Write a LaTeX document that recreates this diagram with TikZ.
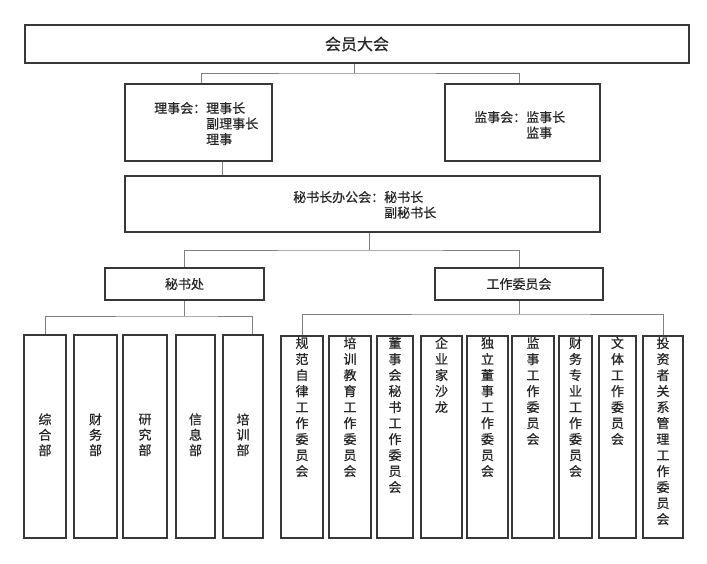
\documentclass[tikz,border=0pt]{standalone}
\usepackage{fontspec}
\newfontfamily\cjk[FakeBold=0.6]{Noto Sans CJK SC}
\newcommand\mystack[1]{\begin{tabular}{@{}c@{}}#1\end{tabular}}
\newcommand\mytopstack[1]{\begin{tabular}[t]{@{}c@{}}#1\end{tabular}}
\begin{document}
\begin{tikzpicture}[x=1pt,y=-1pt,
  box/.style={draw=black!78, line width=1.8pt, fill=white, inner sep=0pt},
  conn/.style={draw=black!50, line width=1pt},
  txt/.style={inner sep=0pt, text=black!85, font=\cjk\fontsize{13}{15.5}\selectfont},
  big/.style={inner sep=0pt, text=black!85, font=\cjk\fontsize{16}{19}\selectfont},
  vl/.style={inner sep=0pt, text=black!85, font=\cjk\fontsize{13}{15}\selectfont},
  vr/.style={inner sep=0pt, text=black!85, font=\cjk\fontsize{13}{16}\selectfont, anchor=base},
]
\useasboundingbox[fill=white] (0,0) rectangle (707,563);

% boxes
\node[box, minimum width=664, minimum height=38] (top) at (357,44) {};
\node[box, minimum width=147, minimum height=77] (lsh) at (198.5,122.5) {};
\node[box, minimum width=155, minimum height=77] (jsh) at (522.5,122.5) {};
\node[box, minimum width=475, minimum height=56] (msh) at (362.5,204) {};
\node[box, minimum width=159, minimum height=32] (msc) at (184.5,284) {};
\node[box, minimum width=168, minimum height=32] (gzw) at (519,284) {};

\node[box, minimum width=42, minimum height=203] (d1) at (45,436.5) {};
\node[box, minimum width=43, minimum height=203] (d2) at (95.5,436.5) {};
\node[box, minimum width=44, minimum height=203] (d3) at (145,436.5) {};
\node[box, minimum width=39, minimum height=203] (d4) at (195.5,436.5) {};
\node[box, minimum width=40, minimum height=203] (d5) at (243,436.5) {};

\node[box, minimum width=42, minimum height=202] (c1) at (302,437) {};
\node[box, minimum width=42, minimum height=202] (c2) at (350,437) {};
\node[box, minimum width=36, minimum height=202] (c3) at (395,437) {};
\node[box, minimum width=41, minimum height=202] (c4) at (441.5,437) {};
\node[box, minimum width=41, minimum height=202] (c5) at (487.5,437) {};
\node[box, minimum width=42, minimum height=202] (c6) at (533,437) {};
\node[box, minimum width=33, minimum height=202] (c7) at (575.5,437) {};
\node[box, minimum width=37, minimum height=202] (c8) at (617.5,437) {};
\node[box, minimum width=40, minimum height=202] (c9) at (663,437) {};

% texts
\node[big] (ttop) at (top) {会员大会};
\node[txt, anchor=base west] (tlsh) at (154,113) {\begin{tabular}[t]{@{}l@{}l@{}}理事会：&理事长\\ &副理事长\\ &理事\end{tabular}};
\node[txt, anchor=base west] (tjsh) at (474,122) {\begin{tabular}[t]{@{}l@{}l@{}}监事会：&监事长\\ &监事\end{tabular}};
\node[txt, anchor=base west] (tmsh) at (293,202) {\begin{tabular}[t]{@{}l@{}l@{}}秘书长办公会：&秘书长\\ &副秘书长\end{tabular}};
\node[txt] (tmsc) at (msc) {秘书处};
\node[txt] (tgzw) at (gzw) {工作委员会};

\node[vl] (td1) at (d1) {\mystack{综\\合\\部}};
\node[vl] (td2) at (d2) {\mystack{财\\务\\部}};
\node[vl] (td3) at (d3) {\mystack{研\\究\\部}};
\node[vl] (td4) at (d4) {\mystack{信\\息\\部}};
\node[vl] (td5) at (d5) {\mystack{培\\训\\部}};

\node[vr] (tc1) at (302,348) {\mytopstack{规\\范\\自\\律\\工\\作\\委\\员\\会}};
\node[vr] (tc2) at (350,348) {\mytopstack{培\\训\\教\\育\\工\\作\\委\\员\\会}};
\node[vr] (tc3) at (395,348) {\mytopstack{董\\事\\会\\秘\\书\\工\\作\\委\\员\\会}};
\node[vr] (tc4) at (441.5,348) {\mytopstack{企\\业\\家\\沙\\龙}};
\node[vr] (tc5) at (487.5,348) {\mytopstack{独\\立\\董\\事\\工\\作\\委\\员\\会}};
\node[vr] (tc6) at (533,348) {\mytopstack{监\\事\\工\\作\\委\\员\\会}};
\node[vr] (tc7) at (575.5,348) {\mytopstack{财\\务\\专\\业\\工\\作\\委\\员\\会}};
\node[vr] (tc8) at (617.5,348) {\mytopstack{文\\体\\工\\作\\委\\员\\会}};
\node[vr] (tc9) at (663,348) {\mytopstack{投\\资\\者\\关\\系\\管\\理\\工\\作\\委\\员\\会}};

% connectors
\coordinate (b1) at (354,73);
\coordinate (b2) at (369,250);
\coordinate (b3) at (184.5,316);
\coordinate (b4) at (519,314);
\draw[conn] ([xshift=-3pt]top.south) -- (b1);
\draw[conn] ([xshift=2.5pt]lsh.north) |- (b1) -| ([xshift=-3.5pt]jsh.north);
\draw[conn] ([xshift=23.5pt]lsh.south) -- ([xshift=23.5pt]lsh.south |- msh.north);
\draw[conn] ([xshift=6.5pt]msh.south) -- (b2);
\draw[conn] (msc.north) |- (b2) -| (gzw.north);
\draw[conn] (msc.south) -- (b3);
\draw[conn] (d1.north) |- (b3) -| ([xshift=9pt]d5.north);
\draw[conn] (gzw.south) -- (b4);
\draw[conn] (c1.north) |- (b4) -| (c9.north);
\end{tikzpicture}
\end{document}
